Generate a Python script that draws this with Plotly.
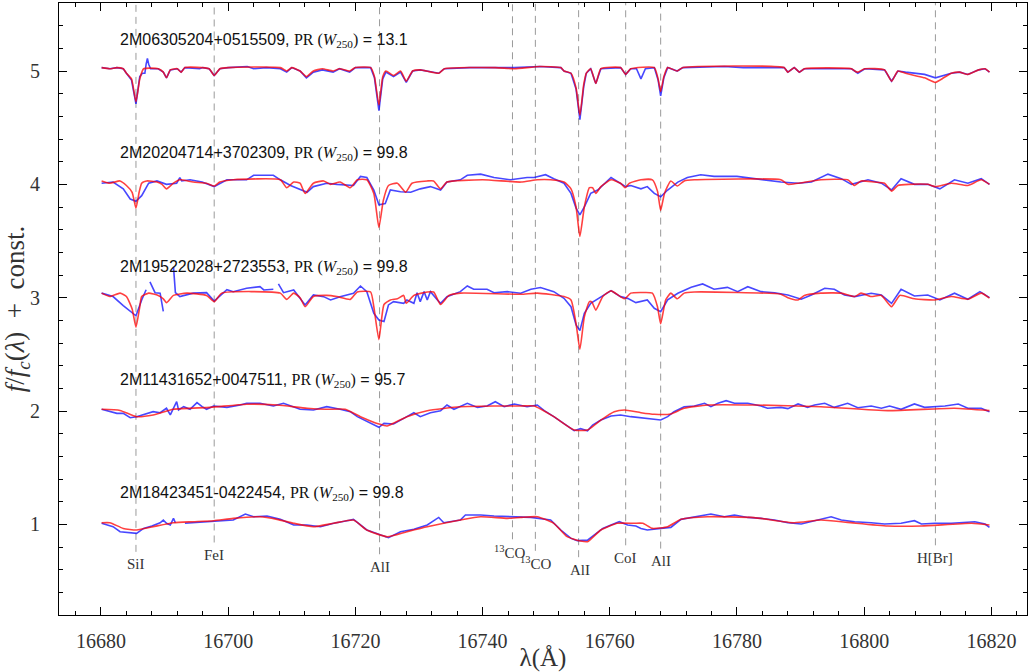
import plotly.graph_objects as go

# ---------------- data (wavelength in Angstrom, normalised flux) ----------------
star_names = ["2M06305204+0515509", "2M20204714+3702309", "2M19522028+2723553",
              "2M11431652+0047511", "2M18423451-0422454"]
pr_values = ["13.1", "99.8", "99.8", "95.7", "99.8"]
offsets = [4, 3, 2, 1, 0]

# spectrum 1 (top, offset 4)
model_a = [(16680.1, 1.03), (16681.4, 1.02), (16682.5, 1.03), (16683.5, 1.02), (16684.0, 0.98), (16684.8, 0.93),
           (16685.5, 0.73), (16686.1, 0.93), (16686.7, 1.02), (16689.0, 1.02), (16689.8, 0.99), (16690.3, 0.94),
           (16690.9, 1.01), (16692.0, 1.02), (16692.6, 0.99), (16693.2, 1.03), (16697.0, 1.02), (16697.8, 0.96),
           (16698.7, 1.02), (16700.0, 1.03), (16708.2, 1.03), (16709.2, 1.00), (16710.0, 1.03), (16711.3, 1.00),
           (16712.3, 0.95), (16713.4, 1.00), (16714.8, 1.02), (16716.5, 1.00), (16717.5, 1.02), (16719.1, 1.00),
           (16720.0, 1.03), (16722.4, 1.03), (16723.0, 0.95), (16723.7, 0.70), (16724.3, 0.95), (16724.8, 1.00),
           (16726.0, 0.96), (16727.1, 1.00), (16728.0, 0.91), (16729.0, 1.00), (16730.2, 1.01), (16733.1, 0.98),
           (16734.0, 1.02), (16742.0, 1.03), (16745.0, 1.02), (16749.0, 1.04), (16752.3, 1.03), (16752.8, 1.00),
           (16753.9, 0.98), (16754.7, 0.85), (16755.3, 0.61), (16755.9, 0.88), (16756.3, 0.98), (16757.0, 1.02),
           (16757.8, 0.89), (16758.6, 1.02), (16761.7, 1.03), (16762.5, 0.97), (16763.3, 1.02), (16767.0, 1.03),
           (16767.6, 0.93), (16768.0, 0.82), (16768.5, 0.95), (16769.1, 1.03), (16770.6, 1.00), (16771.5, 1.03),
           (16787.4, 1.03), (16788.0, 0.99), (16789.0, 1.03), (16789.8, 0.99), (16790.6, 1.02), (16798.0, 1.02),
           (16798.5, 1.00), (16799.0, 0.99), (16800.1, 1.02), (16803.2, 1.01), (16804.3, 0.91), (16805.3, 1.00),
           (16806.5, 0.98), (16807.9, 0.96), (16809.5, 0.94), (16811.2, 0.90), (16812.5, 0.94), (16813.7, 0.98),
           (16815.0, 0.99), (16816.3, 0.97), (16818.0, 1.01), (16819.0, 1.02), (16819.7, 0.99)]
data_a = [(16680.1, 1.03), (16681.4, 1.02), (16682.5, 1.03), (16683.5, 1.02), (16684.0, 0.98), (16684.8, 0.92),
          (16685.5, 0.71), (16686.1, 0.95), (16686.5, 0.98), (16686.9, 0.98), (16687.1, 1.06), (16687.3, 1.11),
          (16687.5, 1.06), (16687.8, 1.02), (16689.0, 1.02), (16689.8, 0.99), (16690.3, 0.94), (16690.9, 1.01),
          (16692.0, 1.02), (16692.6, 0.99), (16693.2, 1.03), (16695.5, 1.02), (16696.0, 1.03), (16697.0, 1.02),
          (16697.8, 0.96), (16698.7, 1.02), (16700.0, 1.03), (16703.0, 1.04), (16704.0, 1.02), (16706.0, 1.03),
          (16708.2, 1.02), (16709.2, 0.99), (16710.0, 1.03), (16711.3, 1.00), (16712.3, 0.94), (16713.4, 0.99),
          (16714.8, 1.01), (16716.5, 0.99), (16717.5, 1.02), (16719.1, 0.99), (16720.0, 1.03), (16722.4, 1.03),
          (16723.0, 0.94), (16723.7, 0.65), (16724.3, 0.93), (16724.8, 0.99), (16726.0, 0.95), (16727.1, 0.99),
          (16728.0, 0.90), (16729.0, 1.00), (16730.2, 1.01), (16733.1, 0.98), (16734.0, 1.02), (16738.0, 1.03),
          (16742.0, 1.03), (16745.0, 1.03), (16749.0, 1.04), (16752.3, 1.03), (16752.8, 1.00), (16753.9, 0.98),
          (16754.7, 0.84), (16755.3, 0.57), (16755.9, 0.86), (16756.3, 0.98), (16757.0, 1.02), (16757.8, 0.89),
          (16758.6, 1.02), (16761.7, 1.03), (16762.5, 0.97), (16763.3, 1.02), (16764.2, 1.02), (16764.9, 0.93),
          (16765.6, 1.02), (16767.0, 1.03), (16767.6, 0.92), (16768.0, 0.78), (16768.5, 0.94), (16769.1, 1.03),
          (16770.6, 1.00), (16771.5, 1.03), (16778.0, 1.04), (16781.0, 1.03), (16787.4, 1.03), (16788.0, 0.99),
          (16789.0, 1.03), (16789.8, 0.99), (16790.6, 1.02), (16798.0, 1.02), (16798.5, 1.00), (16799.0, 0.98),
          (16800.1, 1.02), (16803.2, 1.01), (16804.3, 0.91), (16805.3, 1.00), (16806.5, 0.99), (16807.9, 0.98),
          (16809.5, 0.97), (16811.2, 0.94), (16812.5, 0.96), (16813.7, 0.98), (16815.0, 0.99), (16816.3, 0.97),
          (16818.0, 1.01), (16819.0, 1.02), (16819.7, 0.99)]

# spectrum 2 (offset 3)
model_b = [(16680.1, 1.03), (16681.4, 1.01), (16683.0, 1.03), (16684.0, 0.99), (16684.9, 0.93), (16685.5, 0.79),
           (16686.0, 0.93), (16686.4, 1.01), (16687.2, 1.03), (16688.8, 1.02), (16689.6, 1.00), (16690.3, 0.96),
           (16691.4, 1.01), (16692.4, 1.04), (16694.5, 1.02), (16696.6, 1.01), (16697.8, 0.985), (16698.7, 1.02),
           (16700.8, 1.04), (16708.2, 1.04), (16709.2, 0.97), (16710.3, 1.02), (16711.3, 1.01), (16712.1, 0.92),
           (16713.4, 1.01), (16715.0, 1.03), (16716.1, 1.00), (16717.6, 1.02), (16719.2, 0.97), (16720.3, 1.04),
           (16721.8, 1.04), (16722.9, 0.92), (16723.7, 0.62), (16724.4, 0.86), (16725.2, 0.99), (16726.6, 1.01),
           (16727.9, 0.93), (16728.9, 1.01), (16731.3, 1.03), (16732.3, 1.03), (16733.4, 0.96), (16734.4, 1.02),
           (16740.0, 1.04), (16746.0, 1.02), (16748.6, 1.04), (16750.7, 1.04), (16752.8, 1.02), (16753.9, 0.96),
           (16754.7, 0.80), (16755.3, 0.54), (16756.0, 0.80), (16756.8, 0.97), (16757.3, 0.97), (16757.8, 0.92),
           (16758.6, 0.98), (16760.2, 1.04), (16761.7, 1.01), (16762.4, 0.97), (16763.1, 1.01), (16764.9, 1.04),
           (16766.7, 1.04), (16767.5, 0.94), (16768.0, 0.77), (16768.6, 0.92), (16769.6, 1.03), (16770.6, 0.985),
           (16771.7, 1.03), (16773.3, 1.04), (16786.9, 1.04), (16788.0, 1.00), (16789.6, 1.01), (16793.2, 1.04),
           (16797.4, 1.04), (16798.5, 0.99), (16799.5, 1.03), (16801.6, 1.02), (16803.2, 1.01), (16804.3, 0.94),
           (16805.3, 0.99), (16807.0, 1.00), (16810.0, 1.00), (16811.2, 0.98), (16813.7, 1.01), (16816.3, 0.99),
           (16818.4, 1.04), (16819.7, 1.00)]
data_b = [(16680.1, 1.01), (16681.9, 1.02), (16683.5, 0.96), (16684.6, 0.87), (16685.5, 0.85), (16686.4, 0.90),
          (16687.5, 1.01), (16688.8, 1.03), (16690.3, 1.00), (16691.9, 1.01), (16692.4, 1.06), (16692.7, 1.03),
          (16694.0, 1.04), (16695.9, 1.02), (16697.8, 0.98), (16699.8, 1.04), (16702.9, 1.04), (16704.0, 1.08),
          (16707.1, 1.08), (16708.2, 1.04), (16709.8, 0.99), (16712.1, 0.935), (16712.4, 0.93), (16713.4, 0.98),
          (16715.5, 1.01), (16717.1, 1.00), (16719.7, 0.99), (16720.8, 1.07), (16721.8, 1.06), (16722.9, 0.95),
          (16723.7, 0.82), (16724.7, 0.83), (16725.5, 0.95), (16727.1, 0.935), (16728.7, 0.93), (16730.2, 0.96),
          (16731.8, 0.98), (16733.4, 0.95), (16734.4, 1.02), (16736.5, 1.04), (16737.6, 1.08), (16739.7, 1.09),
          (16741.8, 1.06), (16744.4, 1.04), (16747.0, 1.06), (16748.1, 1.06), (16749.9, 1.085), (16751.2, 1.05),
          (16752.8, 1.01), (16753.9, 0.92), (16754.7, 0.79), (16755.3, 0.73), (16756.0, 0.80), (16757.0, 0.92),
          (16758.1, 0.95), (16760.2, 1.06), (16761.7, 1.01), (16762.5, 0.98), (16763.3, 0.99), (16764.9, 0.96),
          (16765.9, 0.98), (16767.0, 0.92), (16768.0, 0.89), (16769.1, 0.95), (16770.7, 1.02), (16772.2, 1.06),
          (16774.3, 1.085), (16776.4, 1.07), (16780.0, 1.07), (16783.8, 1.04), (16786.9, 1.02), (16789.6, 1.01),
          (16791.7, 1.02), (16794.3, 1.09), (16796.4, 1.05), (16798.0, 1.00), (16800.6, 1.04), (16802.7, 1.01),
          (16804.3, 0.95), (16805.8, 1.05), (16807.9, 1.00), (16810.0, 1.00), (16811.9, 0.96), (16814.2, 1.04),
          (16816.3, 1.01), (16818.4, 1.05), (16819.7, 1.00)]

# spectrum 3 (offset 2)
model_c = [(16680.1, 1.04), (16681.4, 1.01), (16683.0, 1.04), (16684.0, 1.01), (16684.9, 0.90), (16685.5, 0.74),
           (16686.1, 0.92), (16686.4, 1.01), (16687.5, 1.04), (16689.0, 1.02), (16689.8, 0.99), (16690.3, 0.956),
           (16691.4, 1.02), (16693.5, 1.04), (16696.6, 1.02), (16697.8, 0.965), (16699.0, 1.04), (16708.2, 1.04),
           (16709.2, 0.985), (16710.3, 1.04), (16711.3, 1.00), (16712.1, 0.92), (16713.4, 1.01), (16715.5, 1.02),
           (16717.1, 1.01), (16719.2, 0.985), (16720.3, 1.05), (16722.4, 1.05), (16722.9, 0.92), (16723.7, 0.63),
           (16724.5, 0.94), (16725.5, 0.98), (16726.6, 0.99), (16727.6, 1.02), (16728.0, 0.95), (16729.2, 1.02),
           (16731.3, 1.05), (16732.3, 1.05), (16733.4, 0.94), (16734.7, 1.02), (16736.5, 1.04), (16746.0, 1.03),
           (16748.6, 1.04), (16752.8, 1.01), (16753.9, 0.98), (16754.7, 0.77), (16755.3, 0.545), (16756.0, 0.83),
           (16756.8, 0.965), (16757.2, 0.96), (16757.8, 0.89), (16758.9, 1.01), (16760.2, 1.06), (16762.3, 0.99),
           (16763.3, 1.04), (16764.9, 1.045), (16766.7, 1.04), (16767.5, 0.92), (16768.0, 0.77), (16768.8, 0.98),
           (16769.6, 1.04), (16770.6, 0.99), (16771.7, 1.04), (16773.3, 1.05), (16786.9, 1.03), (16788.0, 1.00),
           (16789.6, 0.98), (16790.6, 1.02), (16793.2, 1.04), (16796.4, 1.04), (16798.5, 1.01), (16799.5, 1.04),
           (16801.1, 1.01), (16802.7, 1.02), (16804.3, 0.92), (16805.6, 1.02), (16807.9, 0.99), (16811.1, 0.98),
           (16813.7, 1.01), (16816.3, 0.986), (16818.4, 1.04), (16819.7, 0.995)]
data_c = [(16680.1, 1.04), (16681.9, 1.01), (16683.5, 0.93), (16684.6, 0.876), (16685.5, 0.84), (16686.4, 0.98),
          (16687.1, 1.07), (16687.4, None), (16687.7, 1.14), (16688.5, 1.044), (16689.3, 1.04), (16689.8, 0.88),
          (16690.5, None), (16691.4, 1.274), (16691.7, 1.044), (16692.4, 1.01), (16694.5, 1.04), (16696.6, 1.044),
          (16697.8, 0.97), (16699.8, 1.07), (16700.8, 1.053), (16702.9, 1.083), (16705.0, 1.097), (16705.6, 1.068),
          (16707.1, 1.074), (16707.5, None), (16707.9, 1.121), (16708.7, 1.044), (16710.3, 1.068), (16712.1, 0.936),
          (16713.4, 1.024), (16715.0, 1.009), (16716.1, 0.98), (16717.6, 1.009), (16719.7, 1.039), (16720.8, 1.103),
          (16721.8, 1.053), (16722.9, 0.862), (16723.7, 0.803), (16724.5, 0.789), (16725.2, 0.936), (16726.0, 0.965),
          (16727.6, 0.95), (16728.1, 0.98), (16729.2, 0.95), (16729.7, 1.044), (16730.2, 0.965), (16730.8, 1.053),
          (16731.3, 0.98), (16731.8, 1.053), (16732.9, 0.98), (16733.4, 0.95), (16734.4, 1.009), (16736.5, 1.053),
          (16737.6, 1.103), (16738.6, 1.074), (16740.7, 1.074), (16741.8, 1.044), (16743.9, 1.053), (16746.0, 1.039),
          (16747.6, 1.074), (16749.1, 1.09), (16751.2, 1.053), (16752.8, 0.994), (16753.9, 0.92), (16754.7, 0.759),
          (16755.3, 0.709), (16756.0, 0.862), (16757.0, 0.95), (16758.6, 1.009), (16760.2, 1.062), (16761.7, 1.009),
          (16762.8, 0.994), (16764.1, 0.956), (16765.9, 0.98), (16767.0, 0.906), (16768.0, 0.877), (16769.1, 0.98),
          (16770.7, 1.039), (16772.8, 1.091), (16774.6, 1.121), (16776.4, 1.074), (16778.5, 1.091), (16780.1, 1.053),
          (16781.7, 1.097), (16783.8, 1.053), (16785.9, 1.044), (16788.0, 1.024), (16790.1, 0.986), (16791.7, 1.024),
          (16793.8, 1.083), (16795.3, 1.074), (16796.9, 1.024), (16798.5, 1.009), (16801.1, 1.039), (16802.7, 1.024),
          (16804.3, 0.95), (16805.8, 1.074), (16807.9, 1.015), (16810.0, 1.024), (16811.9, 0.98), (16814.2, 1.039),
          (16816.3, 0.986), (16818.2, 1.053), (16819.7, 1.0)]

# spectrum 4 (offset 1)
model_d = [(16680.1, 1.015), (16683.0, 1.005), (16685.6, 0.95), (16688.2, 0.965), (16691.4, 1.015), (16697.2, 1.032),
           (16702.9, 1.06), (16707.7, 1.053), (16712.4, 1.024), (16715.5, 1.015), (16718.4, 1.015), (16720.8, 0.95),
           (16723.7, 0.885), (16725.0, 0.868), (16728.1, 0.95), (16731.3, 1.003), (16736.5, 1.038), (16741.8, 1.044),
           (16746.0, 1.044), (16748.1, 1.044), (16751.2, 0.95), (16754.4, 0.832), (16756.5, 0.832), (16758.6, 0.92),
           (16760.7, 0.994), (16762.3, 1.009), (16764.9, 0.985), (16767.0, 0.971), (16769.6, 0.974), (16771.7, 1.024),
           (16775.4, 1.053), (16782.7, 1.053), (16793.2, 1.038), (16803.7, 1.003), (16814.2, 1.024), (16819.7, 1.003)]
data_d = [(16680.1, 1.015), (16681.4, 0.994), (16682.5, 0.979), (16683.5, 0.979), (16684.6, 0.941), (16685.6, 0.95),
          (16687.2, 0.979), (16688.2, 0.994), (16689.3, 0.985), (16690.3, 1.024), (16690.9, 0.965), (16691.9, 1.082),
          (16692.2, 1.009), (16693.0, 1.038), (16694.0, 1.015), (16695.1, 1.074), (16695.9, 1.038), (16696.6, 1.015),
          (16697.7, 1.044), (16699.8, 1.032), (16701.9, 1.053), (16702.9, 1.068), (16705.0, 1.068), (16707.1, 1.044),
          (16708.7, 1.068), (16709.8, 1.044), (16711.3, 1.015), (16713.4, 1.009), (16715.5, 1.038), (16717.6, 1.015),
          (16719.2, 0.994), (16720.3, 0.95), (16721.3, 0.921), (16722.4, 0.891), (16723.7, 0.856), (16724.5, 0.891),
          (16726.0, 0.885), (16728.1, 0.95), (16729.2, 0.985), (16730.2, 0.95), (16731.8, 0.985), (16733.4, 1.003),
          (16734.4, 1.053), (16735.5, 1.015), (16737.6, 1.068), (16739.2, 1.032), (16740.7, 1.044), (16742.0, 1.082),
          (16743.4, 1.038), (16745.0, 1.062), (16747.0, 1.038), (16748.6, 1.053), (16749.7, 1.003), (16751.2, 0.95),
          (16752.8, 0.891), (16754.4, 0.826), (16755.4, 0.844), (16756.5, 0.826), (16757.3, 0.876), (16758.6, 0.921),
          (16760.2, 0.956), (16761.7, 0.965), (16763.3, 0.95), (16764.9, 0.941), (16766.5, 0.935), (16768.0, 0.921),
          (16769.1, 0.95), (16770.1, 0.994), (16771.7, 1.038), (16773.3, 1.044), (16774.9, 1.068), (16775.9, 1.038),
          (16777.0, 1.068), (16778.3, 1.091), (16779.6, 1.068), (16781.7, 1.068), (16783.8, 1.044), (16784.8, 1.024),
          (16786.9, 1.032), (16788.0, 1.021), (16789.6, 1.062), (16791.1, 1.032), (16792.2, 1.053), (16793.8, 1.068),
          (16795.3, 1.032), (16797.4, 1.068), (16799.0, 1.029), (16801.1, 1.044), (16802.7, 1.024), (16804.0, 1.044),
          (16805.8, 1.015), (16807.9, 1.062), (16809.5, 1.032), (16811.1, 1.038), (16812.7, 1.044), (16814.8, 1.062),
          (16816.3, 1.024), (16818.4, 1.024), (16819.7, 0.994)]

# spectrum 5 (bottom, offset 0)
model_e = [(16680.1, 1.014), (16681.4, 1.014), (16683.5, 0.964), (16685.6, 0.95), (16688.2, 0.979), (16691.4, 1.014),
           (16694.5, 1.023), (16697.7, 1.032), (16700.8, 1.053), (16705.0, 1.067), (16707.7, 1.044), (16710.3, 1.009),
           (16713.4, 0.979), (16716.6, 1.009), (16719.7, 1.038), (16721.8, 0.95), (16725.0, 0.891), (16728.1, 0.935),
           (16731.3, 0.979), (16736.5, 1.038), (16739.7, 1.067), (16743.9, 1.053), (16746.0, 1.061), (16748.6, 1.067),
           (16751.2, 1.009), (16753.3, 0.891), (16755.4, 0.853), (16756.5, 0.847), (16758.6, 0.95), (16761.2, 1.009),
           (16763.8, 1.009), (16765.2, 1.009), (16766.7, 0.964), (16769.1, 0.979), (16771.2, 1.044), (16775.4, 1.067),
           (16782.7, 1.059), (16789.0, 1.014), (16793.2, 1.038), (16797.4, 1.017), (16803.7, 0.985), (16809.0, 0.985),
           (16816.9, 1.009), (16819.7, 0.994)]
data_e = [(16680.1, 1.009), (16680.9, 0.994), (16681.9, 0.979), (16683.0, 0.935), (16684.6, 0.926), (16685.6, 0.92),
          (16686.7, 0.964), (16688.0, 0.985), (16689.3, 1.014), (16689.8, 1.038), (16690.3, 1.009), (16690.9, 0.994),
          (16691.4, 1.053), (16691.7, 1.014), (16692.2, None), (16693.2, 1.009), (16694.5, 1.014), (16696.6, 1.023),
          (16698.7, 1.032), (16700.8, 1.038), (16702.7, 1.091), (16704.0, 1.067), (16706.1, 1.073), (16708.2, 1.044),
          (16710.3, 0.994), (16712.4, 0.994), (16714.5, 0.979), (16716.6, 1.009), (16718.7, 1.032), (16719.7, 1.044),
          (16721.8, 0.95), (16723.9, 0.906), (16725.2, 0.882), (16727.1, 0.935), (16729.2, 0.956), (16731.3, 0.994),
          (16733.1, 1.061), (16733.9, 1.014), (16736.5, 1.038), (16737.3, 1.082), (16739.7, 1.082), (16741.8, 1.073),
          (16743.9, 1.067), (16746.0, 1.061), (16747.6, 1.061), (16750.7, 1.038), (16752.3, 0.95), (16753.9, 0.876),
          (16754.9, 0.856), (16756.5, 0.861), (16757.5, 0.906), (16758.9, 0.964), (16760.2, 0.994), (16761.5, 1.023),
          (16762.8, 0.994), (16764.1, 0.985), (16764.9, 0.964), (16765.9, 0.95), (16768.0, 0.964), (16769.6, 0.973),
          (16771.2, 1.044), (16773.3, 1.067), (16775.9, 1.091), (16778.0, 1.067), (16779.6, 1.082), (16781.7, 1.061),
          (16783.8, 1.053), (16785.9, 1.038), (16788.0, 1.014), (16790.1, 1.003), (16792.2, 1.032), (16794.8, 1.067),
          (16796.4, 1.038), (16798.5, 1.023), (16801.1, 1.014), (16803.2, 1.003), (16805.8, 1.009), (16807.9, 1.032),
          (16809.0, 1.003), (16811.1, 1.009), (16813.7, 1.009), (16815.8, 1.014), (16817.4, 1.023), (16819.0, 1.003),
          (16819.7, 0.973)]

models = [model_a, model_b, model_c, model_d, model_e]
observed = [data_a, data_b, data_c, data_d, data_e]

# spectral line identifications
line_names = ["SiI", "FeI", "AlI", "<sup>13</sup>CO", "<sup>13</sup>CO", "AlI", "CoI", "AlI", "H[Br]"]
line_waves = [16685.5, 16697.8, 16723.8, 16744.7, 16748.3, 16755.1, 16762.5, 16768.0, 16811.2]
line_label_x = [16685.5, 16697.8, 16723.8, 16744.3, 16748.4, 16755.3, 16762.5, 16768.0, 16811.2]
line_label_y = [0.647, 0.73, 0.626, 0.758, 0.656, 0.60, 0.705, 0.676, 0.705]

# ---------------- figure ----------------
fig = go.Figure()
YMAX = 5.6

for i, wave in enumerate(line_waves):
    fig.add_shape(type="line", xref="x", yref="y", x0=wave, x1=wave,
                  y0=line_label_y[i] + 0.11, y1=YMAX, layer="below",
                  line=dict(color="#9a9a9a", width=1, dash="7px,5px"))
    fig.add_annotation(x=line_label_x[i], y=line_label_y[i], text=line_names[i], showarrow=False,
                       xanchor="center", yanchor="middle",
                       font=dict(family="Liberation Serif", size=15, color="#333333"))

for obs, mod, off in zip(observed, models, offsets):
    fig.add_trace(go.Scatter(x=[p[0] for p in obs],
                             y=[(p[1] + off) if p[1] is not None else None for p in obs],
                             mode="lines", line=dict(color="rgba(0,0,255,0.72)", width=1.6),
                             connectgaps=False, showlegend=False, hoverinfo="skip"))
    fig.add_trace(go.Scatter(x=[p[0] for p in mod], y=[p[1] + off for p in mod],
                             mode="lines",
                             line=dict(color="rgba(255,0,0,0.75)", width=1.6, shape="spline", smoothing=0.5),
                             showlegend=False, hoverinfo="skip"))

for name, pr, off in zip(star_names, pr_values, offsets):
    txt = (f"{name}, <span style='font-family:Liberation Serif'>PR (<i>W</i><sub>250</sub>)</span>"
           f" = {pr}")
    fig.add_annotation(x=16682.7, y=1.27 + off, text=txt, showarrow=False, xanchor="left",
                       yanchor="middle", font=dict(family="Liberation Sans", size=16, color="#111111"))

axis_common = dict(showline=True, linecolor="black", linewidth=1, mirror="ticks", ticks="inside",
                   showgrid=False, zeroline=False, tickcolor="black",
                   tickfont=dict(family="Liberation Serif", size=20, color="#333333"))

fig.update_xaxes(range=[16673.4, 16825.6], tick0=16680, dtick=20, ticklen=8, tickformat="d",
                 minor=dict(dtick=4, tick0=16680, ticks="inside", ticklen=4, tickcolor="black"),
                 title=dict(text="λ(Å)", font=dict(family="Liberation Serif", size=25, color="#333333"),
                            standoff=0),
                 ticklabelstandoff=8, **axis_common)
fig.update_yaxes(range=[0.2, YMAX], tick0=0, dtick=1, ticklen=8, tickformat="d",
                 minor=dict(dtick=0.2, tick0=0, ticks="inside", ticklen=4, tickcolor="black"),
                 title=dict(text="<i>f</i>/<i>f</i><sub><i>c</i></sub>(<i>λ</i>)&nbsp; + &nbsp;const.",
                            font=dict(family="Liberation Serif", size=27, color="#333333"), standoff=2),
                 ticklabelstandoff=14, **axis_common)

fig.update_layout(width=1028, height=672, margin=dict(l=59, r=1, t=3, b=57, autoexpand=False),
                  paper_bgcolor="white", plot_bgcolor="white")

fig.write_html("out.html", config={"displayModeBar": False},
               post_script="document.body.style.margin='0px';")
